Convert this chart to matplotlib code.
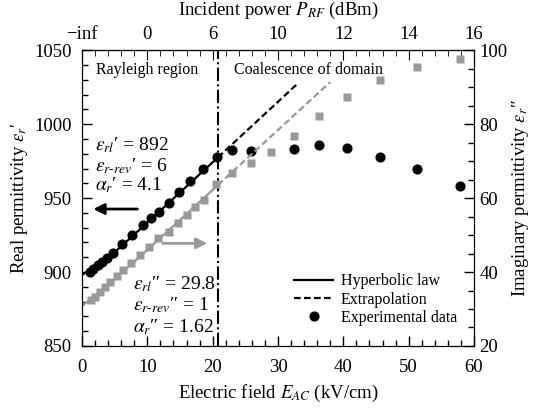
import matplotlib
matplotlib.use("Agg")
import matplotlib.pyplot as plt
from matplotlib.lines import Line2D
from matplotlib.ticker import MultipleLocator

plt.rcParams['font.family'] = ['Liberation Serif', 'DejaVu Serif']
plt.rcParams['mathtext.fontset'] = 'stix'

# Experimental data: electric field (kV/cm)
e_real = [1.2, 1.7, 2.5, 3.0, 3.8, 4.8, 6.1, 7.6, 9.3, 10.6, 11.8, 13.3, 14.9, 16.6, 18.5, 20.6,
          23.0, 25.8, 32.5, 36.3, 40.6, 45.6, 51.3, 57.9]
eps_real = [900.2, 901.8, 904.7, 907.0, 909.2, 913.0, 918.9, 925.0, 931.8, 936.3, 940.3, 946.4, 953.8,
            961.7, 970.0, 977.9, 982.4, 982.0, 983.3, 985.6, 983.8, 977.9, 969.8, 958.1]

e_imag = [1.3, 2.0, 2.8, 3.5, 4.3, 5.3, 6.3, 7.5, 8.9, 10.3, 11.7, 13.3, 14.7, 16.0, 17.3, 18.6, 20.5,
          23.0, 25.8, 29.0, 32.5, 36.2, 40.6, 45.6, 51.3, 57.9]
eps_imag = [32.4, 33.3, 34.7, 36.0, 37.4, 38.9, 40.5, 42.5, 44.6, 46.8, 49.3, 50.9, 53.3, 55.4, 57.5,
            59.5, 63.8, 66.9, 69.5, 72.4, 76.9, 82.2, 87.4, 91.9, 95.5, 97.5]

# Hyperbolic law fit lines
fit_e = [0, 5, 10, 15, 20.8]
fit_real = [898.0, 913.4, 933.4, 953.8, 977.5]
fit_imag = [30.8, 38.0, 46.0, 54.1, 63.5]
ext_real_e = [20.8, 33.0]
ext_real = [977.5, 1027.4]
ext_imag_e = [20.8, 38.0]
ext_imag = [63.5, 91.4]

boundary_e = 20.8
top_ticks = [0, 10, 20, 30, 40, 50, 60]
top_labels = ['\u2212inf', '0', '6', '10', '12', '14', '16']

GRAY = '#999999'
fs = 13.5
P1 = "\u2032"
P2 = "\u2033"
HY = "\u2010"

fig = plt.figure(figsize=(5.35, 4.08), dpi=100)
ax = fig.add_axes([0.1533, 0.152, 0.7327, 0.725])
ax2 = ax.twinx()

ax.set_xlim(0, 60)
ax.set_ylim(850, 1050)
ax2.set_ylim(20, 100)

# lines
ax.plot(fit_e, fit_real, color='black', lw=1.6, zorder=2)
ax.plot(ext_real_e, ext_real, color='black', lw=1.6, ls=(0, (3, 1.5)), zorder=2)
ax2.plot(fit_e, fit_imag, color=GRAY, lw=1.6, zorder=2)
ax2.plot(ext_imag_e, ext_imag, color=GRAY, lw=1.6, ls=(0, (3, 1.5)), zorder=2)

ax.plot(e_real, eps_real, 'o', color='black', ms=6.3, zorder=3)
ax2.plot(e_imag, eps_imag, 's', color=GRAY, ms=6.3, mec='none', zorder=4)

ax.axvline(boundary_e, color='black', lw=1.5, ls='-.', zorder=1)

# ticks
ax.xaxis.set_major_locator(MultipleLocator(10))
ax.xaxis.set_minor_locator(MultipleLocator(2))
ax.yaxis.set_major_locator(MultipleLocator(50))
ax.yaxis.set_minor_locator(MultipleLocator(10))
ax2.yaxis.set_major_locator(MultipleLocator(20))
ax2.yaxis.set_minor_locator(MultipleLocator(5))
for a in (ax, ax2):
    a.tick_params(which='both', direction='in', labelsize=fs, pad=4)
    a.tick_params(which='major', length=7, width=1)
    a.tick_params(which='minor', length=4, width=1)
ax.tick_params(axis='x', pad=9.5)
ax.tick_params(axis='y', pad=7.5)
ax.tick_params(which='both', right=False)

sec = ax.secondary_xaxis('top')
sec.set_xticks(top_ticks)
sec.set_xticklabels(top_labels)
sec.xaxis.set_minor_locator(MultipleLocator(2))
sec.tick_params(which='both', direction='in', labelsize=fs, pad=5)
sec.tick_params(which='major', length=7)
sec.tick_params(which='minor', length=4)
sec.set_xlabel(r'Incident power $P_{RF}$ (dBm)', fontsize=fs, labelpad=8)

ax.set_xlabel(r'Electric field $E_{AC}$ (kV/cm)', fontsize=fs, labelpad=5)
ax.set_ylabel(r"Real permittivity $\varepsilon_r$" + P1, fontsize=fs, labelpad=3)
ax2.set_ylabel(r"Imaginary permittivity $\varepsilon_r$" + P2, fontsize=fs, labelpad=2)

# annotations
ax.text(10.0, 1036.5, 'Rayleigh region', fontsize=11.5, ha='center', va='center')
ax.text(34.7, 1036.5, 'Coalescence of domain', fontsize=11.5, ha='center', va='center')

tfs = 14
ax.text(2.0, 986, r"$\varepsilon_{rl}$" + P1 + " = 892", fontsize=tfs, va='center')
ax.text(2.0, 971.5, r"$\varepsilon_{r" + HY + "rev}$" + P1 + " = 6", fontsize=tfs, va='center')
ax.text(2.0, 958.5, r"$\alpha_{r}$" + P1 + " = 4.1", fontsize=tfs, va='center')
ax.text(7.8, 892, r"$\varepsilon_{rl}$" + P2 + " = 29.8", fontsize=tfs, va='center')
ax.text(7.8, 877.5, r"$\varepsilon_{r" + HY + "rev}$" + P2 + " = 1", fontsize=tfs, va='center')
ax.text(7.8, 862.5, r"$\alpha_{r}$" + P2 + " = 1.62", fontsize=tfs, va='center')

ax.annotate('', xy=(1.3, 942.6), xytext=(8.9, 942.6),
            arrowprops=dict(arrowstyle='-|>', color='black', lw=2, mutation_scale=16))
ax.annotate('', xy=(19.6, 919.4), xytext=(11.9, 919.4),
            arrowprops=dict(arrowstyle='-|>', color=GRAY, lw=2, mutation_scale=16))

handles = [Line2D([], [], color='black', lw=1.6),
           Line2D([], [], color='black', lw=1.6, ls=(0, (3, 1.5))),
           Line2D([], [], color='black', marker='o', ls='none', ms=6.3)]
labels = ['Hyperbolic law', 'Extrapolation', 'Experimental data']
ax2.legend(handles, labels, loc='lower right', bbox_to_anchor=(0.985, 0.03), frameon=False,
           fontsize=11.5, handlelength=2.4, handletextpad=0.5, labelspacing=0.15, borderaxespad=0.3)

fig.savefig('out.png', dpi=100)
